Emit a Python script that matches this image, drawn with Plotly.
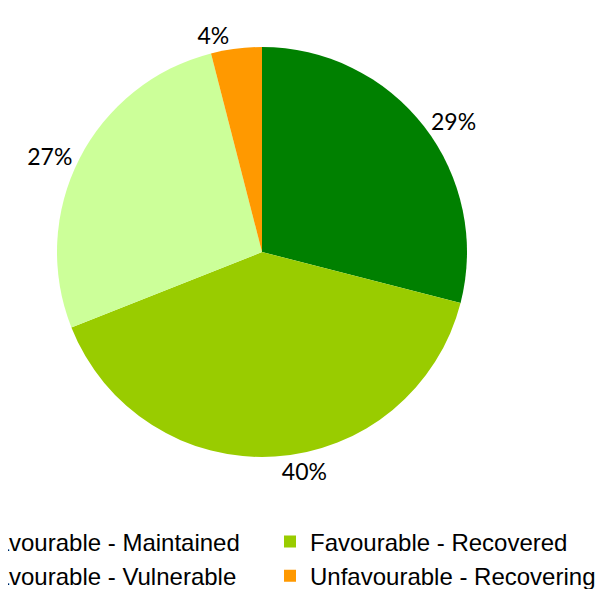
import plotly.graph_objects as go

# Status categories and their shares (%)
labels = [
    "Favourable - Maintained",
    "Favourable - Recovered",
    "Favourable - Vulnerable",
    "Unfavourable - Recovering",
]
values = [29, 40, 27, 4]
colors = ["#008000", "#99CC00", "#CCFF99", "#FF9900"]

# the page adds an 8px body margin; the figure is made wider than the
# window so the two legend columns get enough room (right part is blank)
W, H = 680, 581
paper_h = 500  # plot area height, the legend sits below it

fig = go.Figure()

fig.add_trace(go.Pie(
    labels=labels,
    values=values,
    sort=False,
    direction="clockwise",
    rotation=0,
    marker=dict(colors=colors, line=dict(width=0)),
    texttemplate="%{value}%",
    textposition="outside",
    textfont=dict(family="Lato, Carlito, sans-serif", size=23, color="black"),
    domain=dict(x=[49 / W, 459 / W], y=[1 - 449 / paper_h, 1 - 39 / paper_h]),
    hoverinfo="label+percent",
))

fig.update_layout(
    width=W,
    height=H,
    margin=dict(l=0, r=0, t=0, b=H - paper_h, autoexpand=False),
    paper_bgcolor="white",
    plot_bgcolor="white",
    showlegend=True,
    legend=dict(
        orientation="h",
        entrywidth=284,
        x=-67 / W,
        xanchor="left",
        y=(paper_h - 511.4) / paper_h,
        yanchor="top",
        font=dict(family="Arial, Liberation Sans, sans-serif", size=24, color="black"),
        bgcolor="rgba(0,0,0,0)",
    ),
)

fig.write_html("out.html")
